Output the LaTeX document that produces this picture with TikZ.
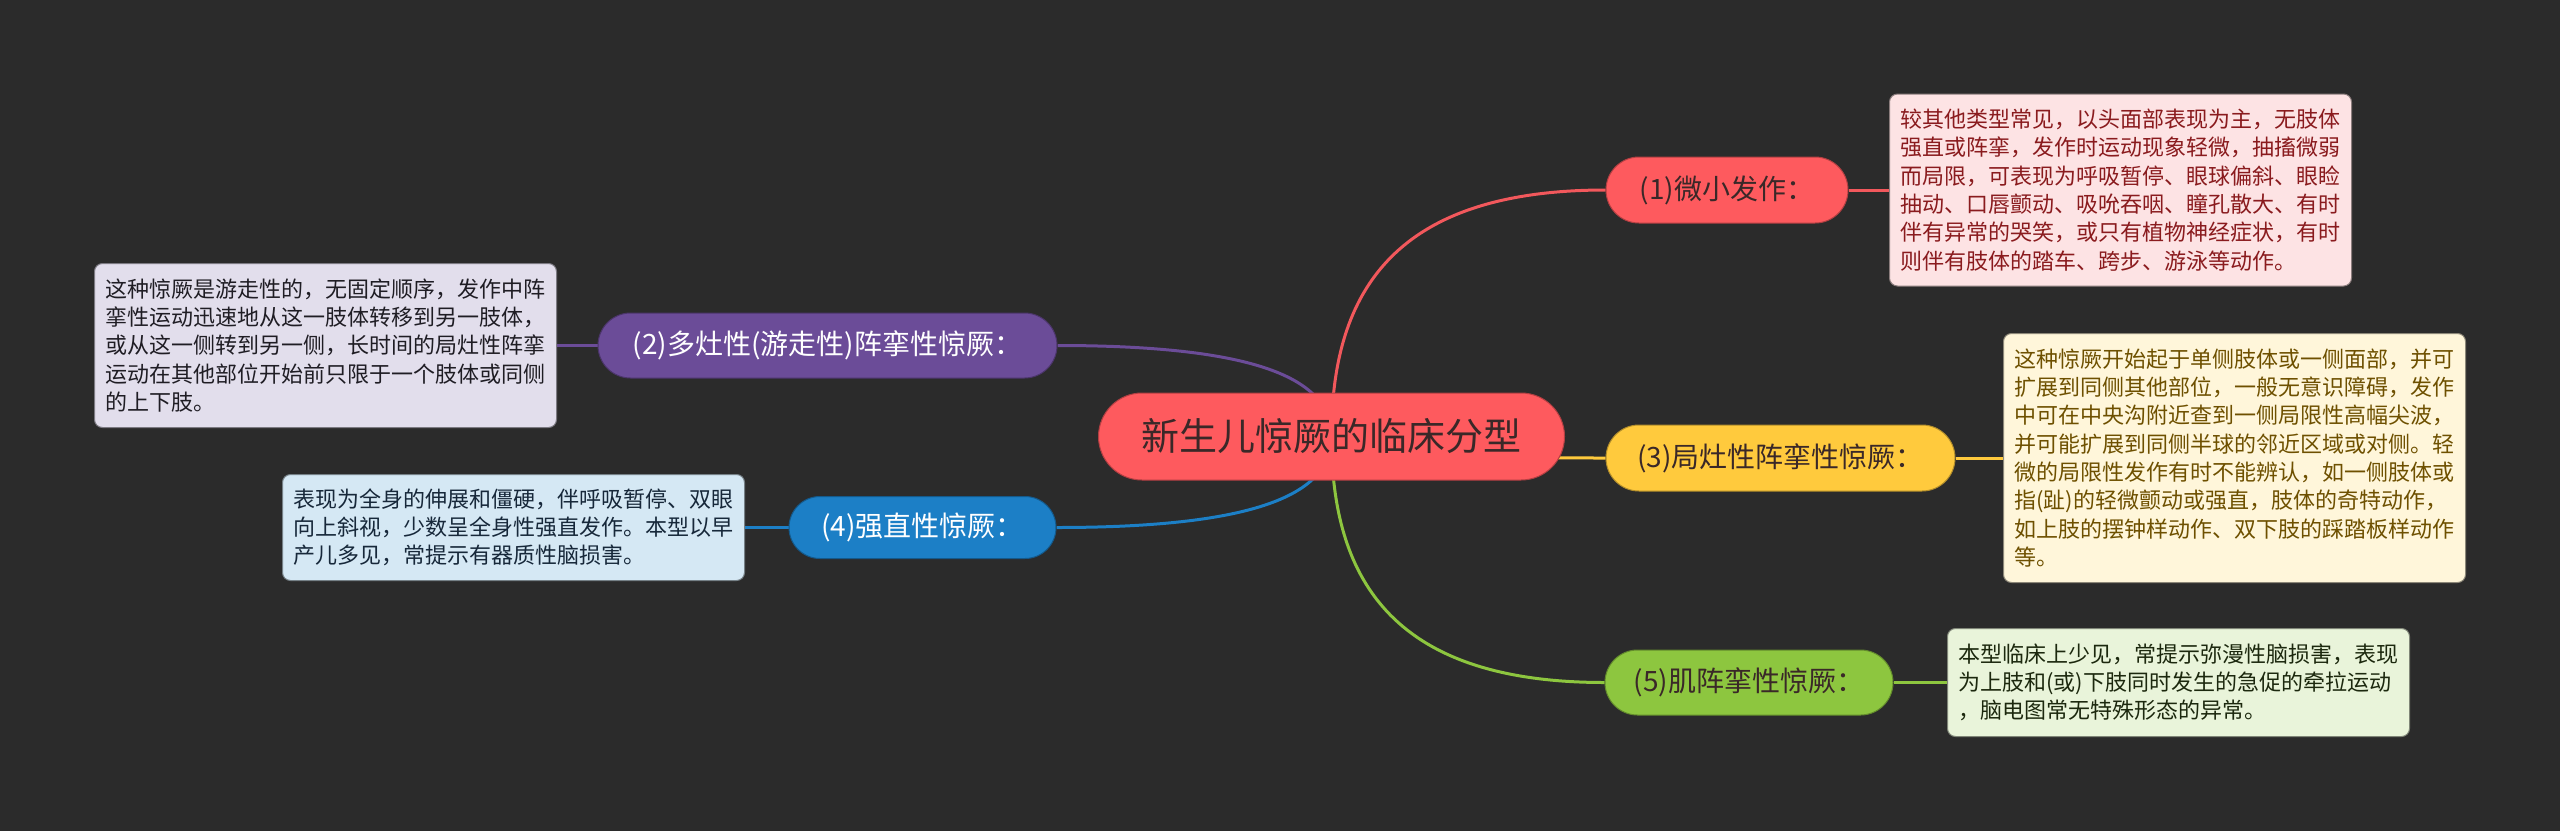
\documentclass[tikz,border=0pt]{standalone}
\usepackage{fontspec}
\setmainfont{Noto Sans CJK SC}
\usetikzlibrary{calc,shapes.misc}
\definecolor{bgc}{HTML}{2B2B2B}
\definecolor{redc}{HTML}{FE5A5E}
\definecolor{redl}{HTML}{F2585C}
\definecolor{purc}{HTML}{6B4C98}
\definecolor{yelc}{HTML}{FFCA3D}
\definecolor{bluc}{HTML}{1C7FC6}
\definecolor{grec}{HTML}{8DC63F}
\definecolor{darkt}{HTML}{3A2828}
\definecolor{b1f}{HTML}{FDE3E4}\definecolor{b1t}{HTML}{8A1B1E}
\definecolor{b2f}{HTML}{E2DEEC}\definecolor{b2t}{HTML}{1F1D24}
\definecolor{b3f}{HTML}{FFF6DA}\definecolor{b3t}{HTML}{6E5000}
\definecolor{b4f}{HTML}{D5E8F4}\definecolor{b4t}{HTML}{17283A}
\definecolor{b5f}{HTML}{E9F4DA}\definecolor{b5t}{HTML}{1C280E}
\pgfdeclarelayer{bg}\pgfdeclarelayer{lines}\pgfsetlayers{bg,lines,main}
\newcommand\mybranch[4]{%
  \draw[#4] (#1.center) .. controls ($(#1.center)!0.6!(#1.center |- #2.#3)$) and ($(#1.center |- #2.#3)!0.24!(#2.#3)$) .. (#2.#3);}
\begin{document}
\begin{tikzpicture}[x=1pt,y=-1pt,
  conn/.style={line width=3pt},
  rootnode/.style={rounded rectangle, fill=redc, draw=redc!70!black, line width=1pt, text=darkt,
    minimum width=466pt, minimum height=87pt, inner sep=0pt, font=\fontsize{38pt}{46pt}\selectfont},
  branchnode/.style={rounded rectangle, line width=1pt, minimum height=66pt, inner sep=0pt,
    font=\fontsize{28pt}{34pt}\selectfont},
  descbox/.style={rectangle, rounded corners=8pt, text width=440pt, align=left, inner xsep=11pt,
    inner ysep=4pt, line width=1pt, font=\fontsize{22pt}{28.3pt}\selectfont}]
\useasboundingbox (0,0) rectangle (2560,831);
\begin{pgfonlayer}{bg}
\fill[bgc] (0,0) rectangle (2560,831);
\end{pgfonlayer}

\node[rootnode] (c) at (1331.5,436.5) {新生儿惊厥的临床分型};

\node[branchnode, fill=redc, draw=redc!70!black, text=darkt, minimum width=242pt] (n1) at (1727,190) {(1)微小发作：};
\node[branchnode, fill=purc, draw=purc!70!black, text=white, minimum width=459pt, minimum height=65pt] (n2) at (827.5,345.5) {(2)多灶性(游走性)阵挛性惊厥：};
\node[branchnode, fill=yelc, draw=yelc!70!black, text=darkt, minimum width=349pt] (n3) at (1780.5,458) {(3)局灶性阵挛性惊厥：};
\node[branchnode, fill=bluc, draw=bluc!70!black, text=white, minimum width=267pt, minimum height=62pt] (n4) at (922.5,527.5) {(4)强直性惊厥：};
\node[branchnode, fill=grec, draw=grec!70!black, text=darkt, minimum width=288pt, minimum height=65pt] (n5) at (1749,682.5) {(5)肌阵挛性惊厥：};

\node[descbox, fill=b1f, draw=b1f!55!black, text=b1t, minimum height=192pt, anchor=west] (b1) at (1889,190) {较其他类型常见，以头面部表现为主，无肢体\\强直或阵挛，发作时运动现象轻微，抽搐微弱\\而局限，可表现为呼吸暂停、眼球偏斜、眼睑\\抽动、口唇颤动、吸吮吞咽、瞳孔散大、有时\\伴有异常的哭笑，或只有植物神经症状，有时\\则伴有肢体的踏车、跨步、游泳等动作。};
\node[descbox, fill=b2f, draw=b2f!55!black, text=b2t, minimum height=164pt, anchor=east] (b2) at (557,345.5) {这种惊厥是游走性的，无固定顺序，发作中阵\\挛性运动迅速地从这一肢体转移到另一肢体，\\或从这一侧转到另一侧，长时间的局灶性阵挛\\运动在其他部位开始前只限于一个肢体或同侧\\的上下肢。};
\node[descbox, fill=b3f, draw=b3f!55!black, text=b3t, minimum height=249pt, anchor=west] (b3) at (2003,458) {这种惊厥开始起于单侧肢体或一侧面部，并可\\扩展到同侧其他部位，一般无意识障碍，发作\\中可在中央沟附近查到一侧局限性高幅尖波，\\并可能扩展到同侧半球的邻近区域或对侧。轻\\微的局限性发作有时不能辨认，如一侧肢体或\\指(趾)的轻微颤动或强直，肢体的奇特动作，\\如上肢的摆钟样动作、双下肢的踩踏板样动作\\等。};
\node[descbox, fill=b4f, draw=b4f!55!black, text=b4t, minimum height=106pt, anchor=east] (b4) at (745,527.5) {表现为全身的伸展和僵硬，伴呼吸暂停、双眼\\向上斜视，少数呈全身性强直发作。本型以早\\产儿多见，常提示有器质性脑损害。};
\node[descbox, fill=b5f, draw=b5f!55!black, text=b5t, minimum height=108pt, anchor=west] (b5) at (1947,682.5) {本型临床上少见，常提示弥漫性脑损害，表现\\为上肢和(或)下肢同时发生的急促的牵拉运动\\，脑电图常无特殊形态的异常。};

\begin{pgfonlayer}{lines}
\mybranch{c}{n1}{west}{conn, redl}
\mybranch{c}{n2}{east}{conn, purc}
\mybranch{c}{n3}{west}{conn, yelc}
\mybranch{c}{n4}{east}{conn, bluc}
\mybranch{c}{n5}{west}{conn, grec}
\draw[conn, redl] (n1.east) -- (b1.west);
\draw[conn, purc] (n2.west) -- (b2.east);
\draw[conn, yelc] (n3.east) -- (b3.west);
\draw[conn, bluc] (n4.west) -- (b4.east);
\draw[conn, grec] (n5.east) -- (b5.west);
\end{pgfonlayer}
\end{tikzpicture}
\end{document}
